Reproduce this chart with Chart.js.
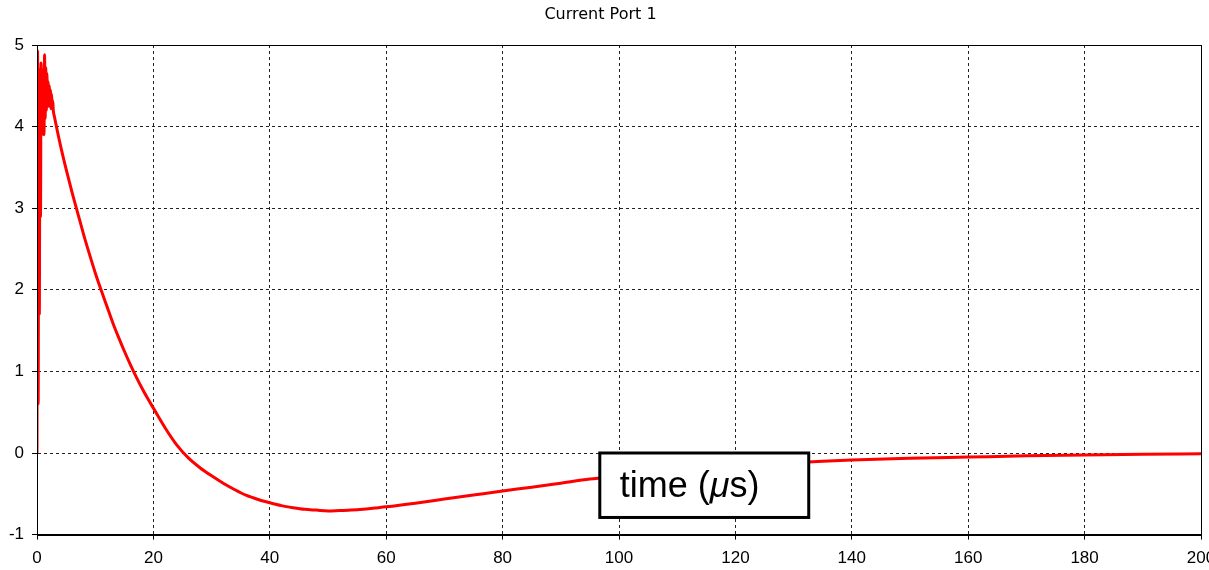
<!DOCTYPE html>
<html>
<head>
<meta charset="utf-8">
<script src="https://cdn.jsdelivr.net/npm/chart.js@4/dist/chart.umd.min.js"></script>
<style>
  html, body { margin: 0; padding: 0; background: #fff; overflow: hidden; }
  #wrap { position: relative; width: 1240px; height: 578px; }
</style>
</head>
<body>
<div id="wrap"><canvas id="chart"></canvas></div>
<script>
// Port 1 current waveform, time in microseconds
const timeUs = [
  0, 0.1, 0.2, 0.3, 0.4, 0.5, 0.6, 0.7, 0.8, 0.9, 1.0, 1.1, 1.2, 1.3, 1.4,
  1.5, 1.6, 1.7, 1.8, 1.9, 2.0, 2.1, 2.2, 2.3, 2.4, 2.5, 2.6, 2.7, 2.8,
  3, 4, 5, 6, 7, 8, 9, 10, 11, 12, 13, 14, 15, 16, 17, 18, 19, 20,
  22, 24, 26, 28, 30, 32, 34, 36, 38, 40, 42, 44, 46, 48, 50, 52, 54, 56, 58, 60,
  65, 70, 75, 80, 85, 90, 95, 100, 105, 110, 115, 120, 125, 130, 135, 140,
  150, 160, 170, 180, 190, 200
];
const currentA = [
  0, 4.93, 0.6, 4.7, 1.7, 4.2, 2.9, 4.78, 3.9, 4.7, 4.0, 4.6, 3.9, 4.88, 4.1,
  4.72, 4.2, 4.65, 4.3, 4.55, 4.25, 4.5, 4.3, 4.45, 4.22, 4.4, 4.25, 4.32, 4.2,
  4.12, 3.78, 3.48, 3.2, 2.94, 2.68, 2.44, 2.21, 2.0, 1.8, 1.6, 1.42, 1.25, 1.09, 0.94, 0.80, 0.67, 0.55,
  0.31, 0.10, -0.06, -0.18, -0.28, -0.37, -0.45, -0.52, -0.57, -0.61, -0.645, -0.67, -0.69, -0.70, -0.71, -0.705, -0.70, -0.69, -0.675, -0.66,
  -0.615, -0.565, -0.515, -0.465, -0.42, -0.37, -0.32, -0.28, -0.24, -0.21, -0.18, -0.16, -0.14, -0.12, -0.10, -0.085,
  -0.065, -0.05, -0.035, -0.025, -0.015, -0.01
];
const xTicks = [0, 20, 40, 60, 80, 100, 120, 140, 160, 180, 200];
const yTicks = [-1, 0, 1, 2, 3, 4, 5];

const chartTitle = 'Current Port 1';
const axisCaption = { pre: 'time (', mu: 'μ', post: 's)' };
// caption box corners in data units (time, current)
const captionBox = { x0: 96.7, x1: 132.6, y0: 0.0, y1: -0.79 };

const frame = {
  id: 'frame',
  afterDatasetsDraw(chart) {
    const { ctx, chartArea: a } = chart;
    ctx.save();
    ctx.strokeStyle = '#000';
    ctx.lineWidth = 1;
    ctx.setLineDash([]);
    ctx.strokeRect(Math.round(a.left) + 0.5, Math.round(a.top) + 0.5,
                   Math.round(a.right - a.left), Math.round(a.bottom - a.top));
    ctx.restore();
  }
};

const caption = {
  id: 'caption',
  afterDraw(chart) {
    const { ctx } = chart;
    const xs = chart.scales.x, ys = chart.scales.y;
    const l = xs.getPixelForValue(captionBox.x0), r = xs.getPixelForValue(captionBox.x1);
    const t = ys.getPixelForValue(captionBox.y0), b = ys.getPixelForValue(captionBox.y1);
    ctx.save();
    ctx.fillStyle = '#fff';
    ctx.fillRect(l, t, r - l, b - t);
    ctx.strokeStyle = '#000';
    ctx.lineWidth = 3;
    ctx.setLineDash([]);
    ctx.strokeRect(l, t, r - l, b - t);
    ctx.fillStyle = '#000';
    ctx.textBaseline = 'alphabetic';
    const base = t + 44;
    let x = l + 20;
    ctx.font = '36px "Liberation Sans", Arial, sans-serif';
    ctx.fillText(axisCaption.pre, x, base);
    x += ctx.measureText(axisCaption.pre).width;
    ctx.font = 'italic 36px "Liberation Sans", Arial, sans-serif';
    ctx.fillText(axisCaption.mu, x, base);
    x += ctx.measureText(axisCaption.mu).width;
    ctx.font = '36px "Liberation Sans", Arial, sans-serif';
    ctx.fillText(axisCaption.post, x, base);
    ctx.restore();
  }
};

const gridStyle = {
  color: '#222',
  tickLength: 5,
  tickColor: '#000',
  tickBorderDash: [],
  lineWidth: 1
};
const borderStyle = { display: true, color: '#000', width: 1, dash: [3, 3] };
const tickFont = { family: '"Liberation Sans", Arial, sans-serif', size: 17 };

new Chart(document.getElementById('chart'), {
  type: 'line',
  data: {
    datasets: [{
      data: timeUs.map((t, i) => ({ x: t, y: currentA[i] })),
      borderColor: '#ff0000',
      borderWidth: 3,
      pointRadius: 0,
      cubicInterpolationMode: 'monotone',
      fill: false
    }]
  },
  options: {
    responsive: true,
    maintainAspectRatio: false,
    animation: false,
    layout: { padding: { left: 0, right: 39, top: 0, bottom: 0 } },
    plugins: {
      legend: { display: false },
      tooltip: { enabled: false },
      title: {
        display: true,
        text: chartTitle,
        color: '#000',
        font: { family: '"DejaVu Sans", Tahoma, sans-serif', size: 16, weight: 'normal' },
        padding: { top: 5, bottom: 20.8 }
      }
    },
    scales: {
      x: {
        type: 'linear',
        min: 0, max: 200,
        afterBuildTicks(s) { s.ticks = xTicks.map(v => ({ value: v })); },
        grid: gridStyle,
        border: borderStyle,
        ticks: { color: '#000', padding: 9, maxRotation: 0, autoSkip: false, font: tickFont }
      },
      y: {
        min: -1, max: 5,
        afterBuildTicks(s) { s.ticks = yTicks.map(v => ({ value: v })); },
        afterFit(s) { s.width = 37; },
        grid: gridStyle,
        border: borderStyle,
        ticks: { color: '#000', padding: 8, font: tickFont }
      }
    }
  },
  plugins: [frame, caption]
});
</script>
</body>
</html>
